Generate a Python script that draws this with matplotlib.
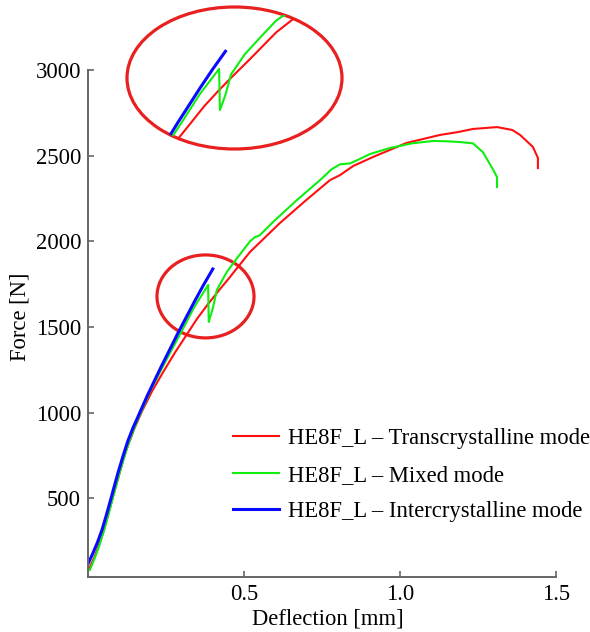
import matplotlib.pyplot as plt
from matplotlib.patches import Ellipse

# force-deflection curves for the three fracture modes
x_trans = [0.005, 0.02, 0.035, 0.05, 0.064, 0.077, 0.09, 0.1, 0.112, 0.125, 0.148,
           0.172, 0.205, 0.24, 0.28, 0.32, 0.35, 0.385, 0.42, 0.455, 0.519,
           0.615, 0.70, 0.776, 0.808, 0.85, 0.913, 1.02, 1.128, 1.186,
           1.234, 1.311, 1.36, 1.385, 1.426, 1.442, 1.442]
f_trans = [95, 155, 228, 310, 400, 490, 575, 640, 720, 795, 905,
           1005, 1125, 1235, 1355, 1466, 1550, 1635, 1715, 1792, 1938,
           2107, 2242, 2358, 2387, 2440, 2492, 2574, 2621, 2638,
           2656, 2667, 2650, 2621, 2551, 2487, 2428]

x_mixed = [0.006, 0.02, 0.035, 0.05, 0.063, 0.075, 0.088, 0.1, 0.115, 0.13, 0.145,
           0.16, 0.2, 0.25, 0.3, 0.34, 0.385, 0.387, 0.40, 0.413, 0.445, 0.478,
           0.519, 0.535, 0.55, 0.593, 0.67, 0.744, 0.78, 0.808, 0.84, 0.87,
           0.904, 0.968, 1.038, 1.106, 1.15, 1.19, 1.234, 1.266, 1.298, 1.311,
           1.311]
f_mixed = [83, 145, 218, 305, 390, 472, 560, 640, 735, 822, 895,
           962, 1130, 1305, 1475, 1615, 1746, 1530, 1610, 1717, 1822, 1903,
           2000, 2025, 2035, 2113, 2242, 2358, 2420, 2450, 2455, 2480,
           2510, 2545, 2572, 2586, 2584, 2580, 2572, 2520, 2420, 2375,
           2317]

x_inter = [0.0, 0.015, 0.03, 0.045, 0.058, 0.07, 0.083, 0.096, 0.112, 0.128, 0.144,
           0.19, 0.234, 0.288, 0.34, 0.37, 0.40]
f_inter = [118, 178, 243, 318, 398, 476, 563, 649, 746, 837, 911,
           1100, 1267, 1464, 1645, 1745, 1839]

labels = ['HE8F_L – Transcrystalline mode', 'HE8F_L – Mixed mode',
          'HE8F_L – Intercrystalline mode']
colors = ['#ff1010', '#10ee10', '#0a0aff']
widths = [1.5, 1.5, 2.2]
series = [(x_trans, f_trans), (x_mixed, f_mixed), (x_inter, f_inter)]

plt.rcParams['font.family'] = 'Liberation Serif'
plt.rcParams['font.size'] = 16.3

fig = plt.figure(figsize=(5.9, 6.32), dpi=100)
ax = fig.add_axes([88 / 590, 1 - 577 / 632, 468 / 590, 507 / 632])

for (xs, fs), c, lw, lab in zip(series, colors, widths, labels):
    ax.plot(xs, fs, color=c, lw=lw, label=lab)

ax.set_xlim(0, 1.5)
ax.set_ylim(42, 3000)
ax.set_xticks([0.5, 1.0, 1.5])
ax.set_xticklabels(['0.5', '1.0', '1.5'])
ax.set_yticks([500, 1000, 1500, 2000, 2500, 3000])
for side in ['top', 'right']:
    ax.spines[side].set_visible(False)
for side in ['left', 'bottom']:
    ax.spines[side].set_color('#666666')
    ax.spines[side].set_linewidth(1.4)
ax.tick_params(direction='in', length=4, width=1.2, color='#666666', labelsize=16.3)
ax.tick_params(axis='x', pad=5)
ax.tick_params(axis='y', pad=5)

ax.set_xlabel('Deflection [mm]', fontsize=16.3)
ax.set_ylabel('Force [N]', fontsize=16.3)
ax.xaxis.set_label_coords(0.512, -0.062)
ax.yaxis.set_label_coords(-0.122, 0.514)

# circle around the crack jump
ax.add_patch(Ellipse((0.3766, 1679), 0.311, 484, fill=False, ec='#e82020', lw=2.3))

ax.legend(loc='center left', bbox_to_anchor=(0.267, 0.201), frameon=False,
          handlelength=2.0, handletextpad=0.4, labelspacing=0.69, fontsize=16.3)

# magnified view of the jump
ins = fig.add_axes([127 / 590, 1 - 149 / 632, 215 / 590, 142 / 632])
ins.axis('off')
ring = Ellipse((0.5, 0.5), 1, 1, transform=ins.transAxes, fill=False,
               ec='#e82020', lw=2.3, clip_on=False)
ins.add_patch(ring)
for (xs, fs), c, lw in zip(series, colors, widths):
    ln, = ins.plot(xs, fs, color=c, lw=lw)
    ln.set_clip_path(ring)
ins.set_xlim(0.1685, 0.674)
ins.set_ylim(1325, 2072)

fig.savefig('out.png', dpi=100)
